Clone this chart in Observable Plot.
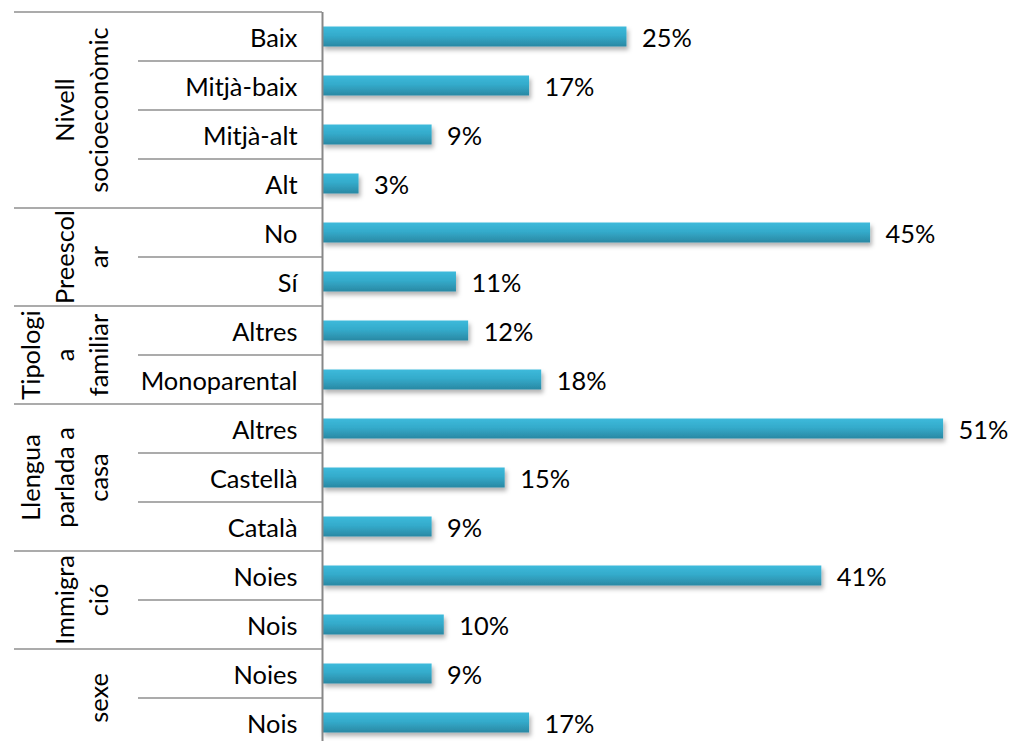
<!DOCTYPE html>
<html>
<head>
<meta charset="utf-8">
<script src="https://cdn.jsdelivr.net/npm/d3@7"></script>
<script src="https://cdn.jsdelivr.net/npm/@observablehq/plot@0.6"></script>
<style>
  html, body { margin: 0; padding: 0; overflow: hidden; background: #fff; }
  #chart svg { display: block; }
</style>
</head>
<body>
<div id="chart"></div>
<script>
// ---- data ----
const labels = ["Baix", "Mitjà-baix", "Mitjà-alt", "Alt", "No", "Sí", "Altres", "Monoparental",
                "Altres", "Castellà", "Català", "Noies", "Nois", "Noies", "Nois"];
const groupOf = ["Nivell socioeconòmic", "Nivell socioeconòmic", "Nivell socioeconòmic", "Nivell socioeconòmic",
                 "Preescolar", "Preescolar", "Tipologia familiar", "Tipologia familiar",
                 "Llengua parlada a casa", "Llengua parlada a casa", "Llengua parlada a casa",
                 "Immigració", "Immigració", "sexe", "sexe"];
const values = [25, 17, 9, 3, 45, 11, 12, 18, 51, 15, 9, 41, 10, 9, 17];
const groups = ["Nivell socioeconòmic", "Preescolar", "Tipologia familiar", "Llengua parlada a casa", "Immigració", "sexe"];
const groupLines = [["Nivell", "socioeconòmic"], ["Preescol", "ar"], ["Tipologi", "a", "familiar"],
                    ["Llengua", "parlada a", "casa"], ["Immigra", "ció"], ["sexe"]];

const ids = labels.map((_, i) => String(i));
const rows = ids.map((id, i) => ({id, label: labels[i], group: groupOf[i], value: values[i]}));

const SVGNS = "http://www.w3.org/2000/svg";
function el(name, attrs) {
  const e = document.createElementNS(SVGNS, name);
  for (const k in attrs) e.setAttribute(k, attrs[k]);
  return e;
}

// defs: gradient + shadow
function defsMark() {
  const defs = el("defs", {});
  const g = el("linearGradient", {id: "barGrad", x1: "0", y1: "0", x2: "0", y2: "1"});
  g.appendChild(el("stop", {offset: "0%", "stop-color": "#3dbadb"}));
  g.appendChild(el("stop", {offset: "45%", "stop-color": "#34abcb"}));
  g.appendChild(el("stop", {offset: "100%", "stop-color": "#2a88a3"}));
  defs.appendChild(g);
  const f = el("filter", {id: "barShadow", x: "-5%", y: "-30%", width: "115%", height: "190%"});
  f.appendChild(el("feDropShadow", {dx: "2", dy: "3.5", stdDeviation: "2", "flood-color": "#000", "flood-opacity": "0.3"}));
  defs.appendChild(f);
  return defs;
}

// separators and group labels, positioned from the y scale
function structureMark(index, scales, values, dimensions) {
  const g = el("g", {});
  const y = scales.y;
  const step = y(ids[1]) - y(ids[0]);
  const axisX = dimensions.marginLeft;
  const groupLeft = 14, innerLeft = 138;
  ids.forEach((id, i) => {
    const top = y(id);
    const isGroupStart = i === 0 || groupOf[i] !== groupOf[i - 1];
    g.appendChild(el("line", {x1: isGroupStart ? groupLeft : innerLeft, x2: axisX, y1: top, y2: top,
      stroke: "#8f8f8f", "stroke-width": 1.6}));
  });
  const lastBottom = y(ids[ids.length - 1]) + step;
  g.appendChild(el("line", {x1: groupLeft, x2: axisX, y1: lastBottom, y2: lastBottom, stroke: "#8f8f8f", "stroke-width": 1.6}));
  groups.forEach((name, gi) => {
    const idx = ids.filter((_, i) => groupOf[i] === name).map(Number);
    const yc = (y(ids[idx[0]]) + y(ids[idx[idx.length - 1]]) + step) / 2;
    const lines = groupLines[gi];
    lines.forEach((line, k) => {
      const xb = 108 - (lines.length - 1 - k) * 34;
      const t = el("text", {transform: `translate(${xb},${yc}) rotate(-90)`, "text-anchor": "middle", fill: "#000"});
      t.textContent = line;
      g.appendChild(t);
    });
  });
  return g;
}

const chart = Plot.plot({
  width: 1009,
  height: 747,
  marginTop: 12,
  marginBottom: 0,
  marginLeft: 322,
  marginRight: 5,
  style: {fontFamily: "Lato, 'Open Sans', sans-serif", fontSize: "25.4px", color: "#000", background: "#fff"},
  x: {domain: [0, 56], axis: null},
  y: {domain: ids, padding: 0, axis: null},
  marks: [
    defsMark,
    Plot.barX(rows, {y: "id", x: "value", fill: "url(#barGrad)", insetTop: 14.5, insetBottom: 14.5}),
    Plot.axisY({tickSize: 0, tickPadding: 25, tickFormat: d => labels[+d], fontSize: 25.4, dy: 2, label: null}),
    Plot.text(rows, {y: "id", x: "value", text: d => d.value + "%", textAnchor: "start", dx: 15, dy: 2, fill: "#000", fontSize: 25.4}),
    structureMark,
    Plot.ruleX([0], {stroke: "#878787", strokeWidth: 2})
  ]
});

// apply shadow to bars
chart.querySelectorAll("rect[fill='url(#barGrad)'], g[fill='url(#barGrad)']").forEach(n => n.setAttribute("filter", "url(#barShadow)"));
document.getElementById("chart").appendChild(chart);
</script>
</body>
</html>
